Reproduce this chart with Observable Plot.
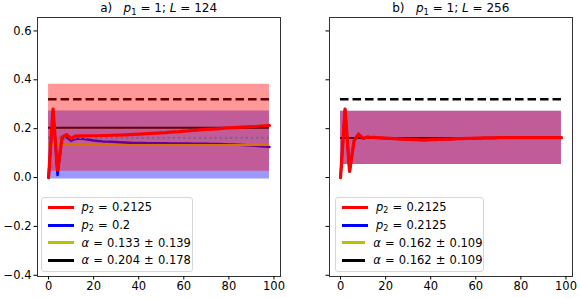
<!DOCTYPE html>
<html>
<head>
<meta charset="utf-8">
<script src="https://cdn.jsdelivr.net/npm/d3@7"></script>
<script src="https://cdn.jsdelivr.net/npm/@observablehq/plot@0.6"></script>
<style>
  html, body { margin: 0; padding: 0; background: #fff; }
  #wrap { position: relative; width: 581px; height: 298px; font-family: "DejaVu Sans", sans-serif; }
  .title { position: absolute; top: 1px; font-size: 12px; white-space: pre; transform: translateX(-50%); color: #000; }
  .legend { position: absolute; border: 1px solid #d6d6d6; border-radius: 3px; background: rgba(255,255,255,0.8); box-sizing: border-box; padding-top: 1px; }
  .row { height: 17.7px; display: flex; align-items: center; font-size: 11.5px; white-space: pre; color: #000; word-spacing: 0.5px; }
  .swatch { display: inline-block; width: 26px; height: 3px; margin-left: 6px; margin-right: 8px; }
  sub { font-size: 0.7em; vertical-align: -0.3em; line-height: 0; }
</style>
</head>
<body>
<div id="wrap"></div>
<script>
// ---- data ----
const panels = ["a", "b"];
const panelTitles = ["a)", "b)"];
const p1Values = [1, 1];
const Lvalues = [124, 256];
const steps = [0,2,4,6,8,10,12,14,16,18,20,22,24,26,28,30,32,34,36,38,40,42,44,46,48,50,52,54,56,58,60,62,64,66,68,70,72,74,76,78,80,82,84,86,88,90,92,94,96,98];

// panel a, red series (p2 = 0.2125)
const redA = [0,0.28,0.03,0.165,0.176,0.16,0.17,0.171,0.171,0.171,0.171,0.171,0.172,0.172,0.173,0.174,0.174,0.175,0.176,0.177,0.178,0.179,0.18,0.181,0.182,0.183,0.184,0.186,0.187,0.188,0.19,0.191,0.193,0.194,0.196,0.197,0.198,0.199,0.2,0.202,0.203,0.204,0.205,0.206,0.207,0.208,0.209,0.211,0.212,0.213];
// panel a, blue series (p2 = 0.2)
const blueA = [0,0.27,0.01,0.16,0.165,0.15,0.158,0.16,0.158,0.155,0.152,0.15,0.148,0.147,0.146,0.145,0.144,0.143,0.142,0.141,0.141,0.141,0.14,0.14,0.14,0.14,0.14,0.139,0.139,0.139,0.139,0.139,0.138,0.138,0.138,0.138,0.137,0.137,0.137,0.136,0.135,0.135,0.134,0.133,0.132,0.131,0.13,0.128,0.127,0.125];
// panel b, red series (p2 = 0.2125)
const redB = [0,0.28,0.025,0.15,0.178,0.16,0.166,0.164,0.163,0.162,0.161,0.16,0.159,0.158,0.157,0.156,0.155,0.155,0.154,0.154,0.155,0.155,0.156,0.157,0.157,0.158,0.159,0.159,0.16,0.16,0.161,0.161,0.162,0.162,0.162,0.163,0.163,0.163,0.163,0.163,0.163,0.163,0.163,0.163,0.163,0.163,0.163,0.163,0.163,0.163];
// panel b, blue series (p2 = 0.2125, same as red)
const blueB = redB.slice();

const p2Red = [0.2125, 0.2125];
const p2Blue = [0.2, 0.2125];
const alphaYellowMean = [0.133, 0.162];
const alphaYellowSd = [0.139, 0.109];
const alphaBlackMean = [0.204, 0.162];
const alphaBlackSd = [0.178, 0.109];
const dashedRef = [0.32, 0.32];
const dottedRef = [0.162];          // panel a only
const yTicks = [-0.4, -0.2, 0.0, 0.2, 0.4, 0.6];
const xTicks = [0, 20, 40, 60, 80, 100];

// ---- tables ----
const lineRows = (arr, panel) => arr.map((v, i) => ({panel, x: steps[i], y: v}));
const redRows = [...lineRows(redA, "a"), ...lineRows(redB, "b")];
const blueRows = [...lineRows(blueA, "a"), ...lineRows(blueB, "b")];
const x0 = steps[0], x1 = steps[steps.length - 1];
const bandRows = (means, sds) => panels.flatMap((p, i) => [x0, x1].map(x => ({panel: p, x, lo: means[i] - sds[i], hi: means[i] + sds[i]})));
const blueBand = bandRows(alphaYellowMean, alphaYellowSd);
const redBand = bandRows(alphaBlackMean, alphaBlackSd);
const ruleRows = (vals) => vals.map((v, i) => ({panel: panels[i], y: v}));

const fmt = d => (d < 0 ? "\u2212" : "") + Math.abs(d).toFixed(1);

const chart = Plot.plot({
  width: 581,
  height: 298,
  marginLeft: 37,
  marginRight: 8.5,
  marginTop: 17,
  marginBottom: 22,
  style: {fontFamily: "DejaVu Sans, sans-serif", fontSize: "11.5px", color: "#000", background: "transparent"},
  fx: {domain: panels, paddingInner: 0.169, paddingOuter: 0, axis: null, label: null},
  x: {domain: [-4.9, 102.9], label: null},
  y: {domain: [-0.405, 0.655], label: null},
  marks: [
    Plot.areaY(blueBand, {fx: "panel", x: "x", y1: "lo", y2: "hi", fill: "blue", fillOpacity: 0.4}),
    Plot.line(blueRows, {fx: "panel", x: "x", y: "y", stroke: "blue", strokeWidth: 2.5}),
    Plot.ruleY(ruleRows(alphaYellowMean), {fx: "panel", y: "y", x1: x0, x2: x1, stroke: "#bfbf00", strokeWidth: 2}),
    Plot.ruleY(ruleRows(alphaBlackMean), {fx: "panel", y: "y", x1: x0, x2: x1, stroke: "black", strokeWidth: 2}),
    Plot.ruleY(ruleRows(dashedRef), {fx: "panel", y: "y", x1: x0, x2: x1, stroke: "black", strokeWidth: 2.5, strokeDasharray: "8.5,4"}),
    Plot.areaY(redBand, {fx: "panel", x: "x", y1: "lo", y2: "hi", fill: "red", fillOpacity: 0.4}),
    Plot.ruleY(ruleRows(dottedRef), {fx: "panel", y: "y", x1: x0, x2: x1, stroke: "#7f6190", strokeWidth: 2.2, strokeDasharray: "2.2,3"}),
    Plot.line(redRows, {fx: "panel", x: "x", y: "y", stroke: "red", strokeWidth: 3.2}),
    Plot.frame({stroke: "#333", strokeWidth: 1}),
    Plot.axisY({ticks: yTicks, tickFormat: fmt, tickSize: 3.5, tickPadding: 2.5, fontSize: 11.5, facetAnchor: "left", label: null}),
    Plot.axisY({ticks: yTicks, tickFormat: () => "", tickSize: 3.5, facetAnchor: "right", label: null}),
    Plot.axisX({ticks: xTicks, tickSize: 3.5, tickPadding: 2, fontSize: 11.5, label: null})
  ]
});

const wrap = document.getElementById("wrap");
wrap.appendChild(chart);

// titles
const titleX = [158.6, 450.8];
panels.forEach((p, i) => {
  const t = document.createElement("div");
  t.className = "title";
  t.style.left = titleX[i] + "px";
  t.innerHTML = `${panelTitles[i]}   <i>p</i><sub>1</sub> = ${p1Values[i]}; <i>L</i> = ${Lvalues[i]}`;
  wrap.appendChild(t);
});

// legends
const legendPos = [{left: 40.5, top: 196.5, width: 152, height: 75.5}, {left: 335, top: 196.5, width: 148.5, height: 75.5}];
panels.forEach((p, i) => {
  const lg = document.createElement("div");
  lg.className = "legend";
  Object.assign(lg.style, {left: legendPos[i].left + "px", top: legendPos[i].top + "px", width: legendPos[i].width + "px", height: legendPos[i].height + "px"});
  const entries = [
    ["red", `<i>p</i><sub>2</sub> = ${p2Red[i]}`],
    ["blue", `<i>p</i><sub>2</sub> = ${p2Blue[i]}`],
    ["#bfbf00", `<i>α</i> = ${alphaYellowMean[i].toFixed(3)} ± ${alphaYellowSd[i].toFixed(3)}`],
    ["black", `<i>α</i> = ${alphaBlackMean[i].toFixed(3)} ± ${alphaBlackSd[i].toFixed(3)}`]
  ];
  lg.innerHTML = entries.map(([c, txt]) => `<div class="row"><span class="swatch" style="background:${c}"></span><span>${txt}</span></div>`).join("");
  wrap.appendChild(lg);
});
</script>
</body>
</html>
